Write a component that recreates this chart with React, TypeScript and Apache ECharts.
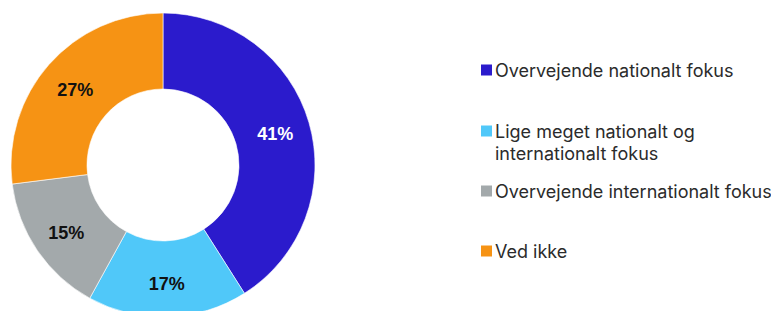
import React, { useEffect, useRef } from "react";
import * as echarts from "echarts";

const categories = [
  "Overvejende nationalt fokus",
  "Lige meget nationalt og\ninternationalt fokus",
  "Overvejende internationalt fokus",
  "Ved ikke",
];
const values = [41, 17, 15, 27];
const colors = ["#2B1BCC", "#50C8F9", "#A3A9AB", "#F69314"];
const labelColors = ["#ffffff", "#111111", "#111111", "#111111"];

// layout constants (first-line centre of each legend entry)
const legendLineCenters = [70, 131, 191, 251];

export default function App() {
  const ref = useRef<HTMLDivElement>(null);
  useEffect(() => {
    if (!ref.current) return;
    const chart = echarts.init(ref.current, undefined, { renderer: "svg" });
    const legendGraphics: any[] = [];
    categories.forEach((name, i) => {
      const cy = legendLineCenters[i];
      legendGraphics.push({
        type: "rect",
        left: 481,
        top: cy - 5.5,
        shape: { width: 11, height: 11 },
        style: { fill: colors[i] },
      });
      legendGraphics.push({
        type: "text",
        x: 495,
        y: cy - 11,
        style: {
          text: name,
          fill: "#2b2b2b",
          font: '18px "Inter"',
          lineHeight: 22,
          textVerticalAlign: "top",
        },
      });
    });
    chart.setOption({
      animation: false,
      backgroundColor: "#ffffff",
      series: [
        {
          type: "pie",
          center: [163, 165],
          radius: [76, 152],
          startAngle: 90,
          clockwise: true,
          avoidLabelOverlap: false,
          itemStyle: { borderColor: "#ffffff", borderWidth: 0.6 },
          label: {
            show: true,
            position: "inside",
            formatter: "{c}%",
            fontFamily: "Liberation Sans",
            fontWeight: "bold",
            fontSize: 18,
            offset: [0, 2],
          },
          labelLine: { show: false },
          data: categories.map((name, i) => ({
            name,
            value: values[i],
            itemStyle: { color: colors[i] },
            label: { color: labelColors[i] },
          })),
        },
      ],
      graphic: legendGraphics,
    });
    return () => chart.dispose();
  }, []);
  return (
    <div
      ref={ref}
      style={{ position: "fixed", left: 0, top: 0, width: 771, height: 311 }}
    />
  );
}
